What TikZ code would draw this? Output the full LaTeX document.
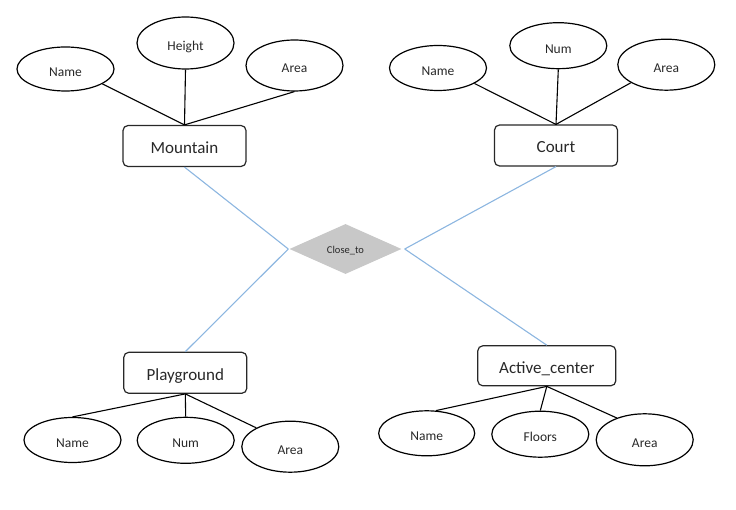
\documentclass[tikz,border=0pt]{standalone}
\usepackage{fontspec}
\setmainfont{Carlito}
\usetikzlibrary{shapes.geometric}
\definecolor{relblue}{RGB}{140,182,224}
\definecolor{diagray}{RGB}{200,200,200}
\definecolor{inkgray}{RGB}{40,40,40}
\begin{document}
\begin{tikzpicture}[x=1pt,y=-1pt,
  attr/.style={draw=black,line width=1.2pt,ellipse,inner sep=0pt,minimum width=97pt,font=\fontsize{13.5}{15}\selectfont,text=inkgray,text height=15pt,text depth=0pt},
  entity/.style={draw=inkgray,line width=1.2pt,rectangle,rounded corners=5pt,inner sep=0pt,minimum width=123pt,minimum height=41pt,font=\fontsize{17}{19}\selectfont,text=inkgray,text height=15pt,text depth=0pt},
  rel/.style={diamond,fill=diagray,inner sep=0pt,minimum width=112pt,minimum height=50pt,aspect=2.24,font=\fontsize{10.5}{12}\selectfont,text=inkgray,text height=9pt,text depth=0pt},
  alink/.style={draw=black,line width=1.1pt},
  rlink/.style={draw=relblue,line width=1.1pt}]
\useasboundingbox (0,0) rectangle (736,510);
% Mountain
\node[entity] (mtn) at (184.5,146) {Mountain};
\node[attr,minimum height=44pt] (mname) at (65.5,69) {Name};
\node[attr,minimum height=52pt] (mheight) at (185.5,43) {Height};
\node[attr,minimum height=51pt] (marea) at (294.5,65.5) {Area};
\draw[alink] (mtn.north) -- (mname.-22);
\draw[alink] (mtn.north) -- (mheight.south);
\draw[alink] (mtn.north) -- (marea.south);
% Court
\node[entity] (court) at (556,145.5) {Court};
\node[attr,minimum height=45pt] (cname) at (438,68) {Name};
\node[attr,minimum height=46pt] (cnum) at (558.3,45.7) {Num};
\node[attr,minimum height=51pt] (carea) at (666.3,64.7) {Area};
\draw[alink] (court.north) -- (cname.-23.6);
\draw[alink] (court.north) -- (cnum.south);
\draw[alink] (court.north) -- (carea.-153);
% Playground
\node[entity] (play) at (185.3,372.8) {Playground};
\node[attr,minimum height=45pt] (pname) at (72.5,440) {Name};
\node[attr,minimum height=46pt] (pnum) at (185.7,440.3) {Num};
\node[attr,minimum height=51pt] (parea) at (290.3,446.7) {Area};
\draw[alink] (play.south) -- (pname.north);
\draw[alink] (play.south) -- (pnum.north);
\draw[alink] (play.south) -- (parea.151.3);
% Active_center
\node[entity,minimum width=138pt,minimum height=40pt] (act) at (546.8,365.8) {Active\_center};
\node[attr,minimum width=96pt,minimum height=45pt] (aname) at (426.7,433.3) {Name};
\node[attr,minimum height=46pt] (afloors) at (540.3,434.2) {Floors};
\node[attr,minimum height=52pt] (aarea) at (644.7,439.8) {Area};
\draw[alink] (act.south) -- (aname.68);
\draw[alink] (act.south) -- (afloors.north);
\draw[alink] (act.south) -- (aarea.142.5);
% Relationship
\node[rel] (close) at (345.5,249) {Close\_to};
\coordinate (cr) at ([xshift=3pt]close.east);
\coordinate (cl) at ([xshift=-1pt]close.west);
\draw[rlink] (mtn.south) -- (cl);
\draw[rlink] (play.north) -- (cl);
\draw[rlink] (court.south) -- (cr);
\draw[rlink] (act.north) -- (cr);
\end{tikzpicture}
\end{document}
